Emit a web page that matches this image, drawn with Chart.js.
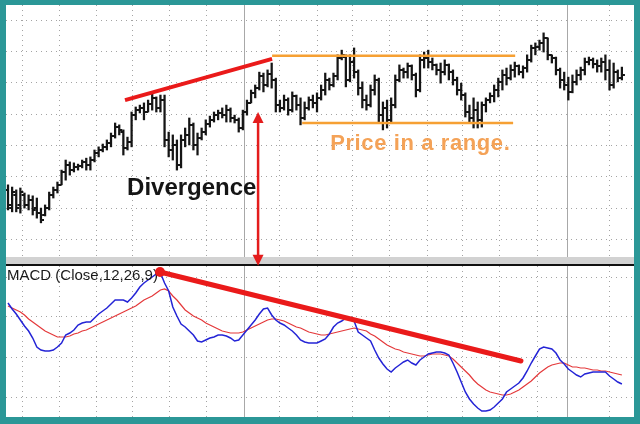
<!DOCTYPE html>
<html><head><meta charset="utf-8">
<script src="https://cdn.jsdelivr.net/npm/chart.js@4"></script>
<style>
html,body{margin:0;padding:0;background:#2b9797;}
#frame{position:relative;width:640px;height:424px;background:#2b9797;overflow:hidden}
#inner{position:absolute;left:6px;top:5px;width:628px;height:412px;background:#fff}
#sep{position:absolute;left:6px;top:257px;width:628px;height:7px;background:#d2d2d2}
#sepline{position:absolute;left:6px;top:264px;width:628px;height:2px;background:#111}
#c1{position:absolute;left:0;top:0;z-index:3}
#c2{position:absolute;left:0;top:266px;z-index:2}
</style></head>
<body>
<div id="frame">
<div id="inner"></div><div id="sep"></div><div id="sepline"></div>
<canvas id="c1" width="640" height="272"></canvas>
<canvas id="c2" width="640" height="151"></canvas>
</div>
<script>
// ---- Price bars (OHLC) ----
const opens=[52.59,52.01,52.43,52.11,52.43,52.11,52.27,52.01,51.85,51.79,
52.01,52.43,52.59,52.75,53.16,53.38,53.22,53.32,53.35,53.48,
53.38,53.54,53.76,53.86,53.96,54.08,54.31,54.59,54.43,53.92,
54.11,54.97,55.13,55.20,55.07,55.32,55.52,55.20,55.45,54.18,
53.86,54.02,53.38,54.18,54.34,54.66,54.02,54.24,54.43,54.69,
54.82,54.97,55.04,54.97,55.13,54.88,54.82,54.56,55.07,55.36,
55.68,55.83,56.22,55.93,56.28,56.09,55.29,55.20,55.45,55.13,
55.58,55.29,54.88,55.20,55.45,55.36,55.52,55.77,56.09,55.93,
56.22,56.79,56.82,56.09,56.66,56.34,55.83,55.45,55.29,55.77,
56.09,54.97,55.20,54.82,55.29,56.09,56.41,56.34,56.54,56.25,
55.77,56.73,56.79,56.66,56.57,56.41,56.34,56.57,56.34,56.09,
55.77,55.61,55.07,54.88,55.13,54.82,55.29,55.45,55.58,55.77,
56.03,56.25,56.15,56.41,56.54,56.34,56.47,56.73,57.11,57.14,
57.27,57.43,56.89,56.79,56.41,56.09,55.93,55.71,56.03,56.25,
56.41,56.66,56.73,56.60,56.54,56.66,56.41,55.93,56.34,56.15];
const highs=[52.75,52.68,52.59,52.65,52.49,52.43,52.40,52.33,52.01,52.11,
52.52,52.68,52.84,53.22,53.54,53.48,53.45,53.41,53.54,53.60,
53.64,53.86,53.96,54.05,54.18,54.40,54.72,54.66,54.50,54.27,
55.07,55.23,55.29,55.36,55.45,55.68,55.55,55.61,55.61,54.43,
54.34,54.18,54.34,54.56,54.88,54.72,54.40,54.56,54.82,54.94,
55.07,55.13,55.20,55.29,55.20,54.97,54.88,55.13,55.45,55.77,
55.93,56.34,56.31,56.41,56.63,56.15,55.45,55.61,55.52,55.71,
55.61,55.52,55.39,55.55,55.61,55.68,55.93,56.31,56.15,56.31,
56.89,57.04,56.89,56.89,57.11,56.41,56.03,55.61,55.93,56.25,
56.15,55.39,55.45,55.52,56.25,56.57,56.47,56.63,56.57,56.31,
56.89,56.98,57.04,56.79,56.60,56.63,56.73,56.60,56.41,56.18,
55.99,55.68,55.29,55.52,55.39,55.39,55.52,55.68,55.93,56.15,
56.41,56.47,56.57,56.66,56.57,56.54,56.89,57.20,57.27,57.36,
57.59,57.43,56.89,56.82,56.47,56.34,56.18,56.25,56.41,56.50,
56.79,56.82,56.79,56.73,56.79,56.89,56.73,56.63,56.41,56.50];
const lows=[51.95,51.89,51.89,51.85,52.01,51.95,51.79,51.69,51.54,51.76,
51.95,52.33,52.49,52.75,52.90,53.06,53.16,53.22,53.29,53.22,
53.22,53.48,53.64,53.80,53.86,53.96,54.24,54.34,53.70,53.86,
53.96,54.82,55.04,54.82,55.07,55.13,55.07,55.07,53.96,53.64,
53.54,53.22,53.29,53.96,54.02,53.86,53.70,54.18,54.34,54.59,
54.75,54.82,54.88,54.75,54.75,54.72,54.43,54.50,54.97,55.36,
55.52,55.77,55.71,55.87,55.83,55.07,55.07,55.13,54.97,55.07,
55.13,54.66,54.82,55.13,55.20,55.07,55.45,55.61,55.77,55.87,
56.09,56.73,55.87,56.03,56.15,55.61,55.20,55.13,55.23,55.61,
54.75,54.50,54.56,54.75,55.20,56.03,56.15,56.15,56.09,55.55,
55.71,56.47,56.47,56.41,56.25,55.99,56.25,56.09,55.93,55.61,
55.45,54.91,54.75,54.56,54.56,54.59,55.07,55.36,55.39,55.55,
55.77,55.93,56.09,56.18,56.25,56.15,56.34,56.66,56.89,57.04,
56.98,56.73,56.63,56.25,55.83,55.77,55.45,55.68,55.93,56.09,
56.25,56.57,56.47,56.34,56.34,56.09,55.77,55.83,56.03,56.09];
const closes=[52.11,52.52,52.01,52.52,52.11,52.27,51.95,51.85,51.63,52.01,
52.43,52.59,52.75,53.16,53.38,53.22,53.32,53.35,53.48,53.38,
53.54,53.76,53.86,53.96,54.08,54.31,54.59,54.50,53.92,54.11,
54.97,55.13,55.20,55.07,55.32,55.52,55.20,55.45,54.18,53.86,
54.02,53.38,54.18,54.34,54.66,54.02,54.24,54.43,54.69,54.82,
54.97,55.04,54.97,55.13,54.88,54.82,54.56,55.07,55.36,55.68,
55.83,56.22,55.93,56.28,56.09,55.29,55.20,55.45,55.13,55.58,
55.29,54.88,55.20,55.45,55.36,55.52,55.77,56.09,55.93,56.22,
56.79,56.89,56.09,56.66,56.34,55.83,55.45,55.29,55.77,56.09,
54.97,55.20,54.82,55.29,56.09,56.41,56.34,56.54,56.25,55.77,
56.73,56.79,56.66,56.57,56.41,56.34,56.57,56.34,56.09,55.77,
55.61,55.07,54.88,55.13,54.82,55.29,55.45,55.58,55.77,56.03,
56.25,56.15,56.41,56.54,56.34,56.47,56.73,57.11,57.14,57.27,
57.43,56.89,56.79,56.41,56.09,55.93,55.71,56.03,56.25,56.41,
56.66,56.73,56.60,56.54,56.66,56.41,55.93,56.34,56.15,56.25];
// ---- MACD (12,26,9) ----
const macd=[0.270,0.240,0.215,0.185,0.155,0.130,0.095,0.050,0.035,0.030,
0.030,0.035,0.050,0.070,0.110,0.120,0.135,0.160,0.170,0.175,
0.175,0.195,0.215,0.230,0.245,0.265,0.285,0.285,0.285,0.275,
0.295,0.320,0.350,0.370,0.385,0.400,0.415,0.420,0.370,0.330,
0.250,0.205,0.165,0.150,0.130,0.110,0.080,0.075,0.085,0.095,
0.100,0.110,0.110,0.105,0.095,0.080,0.085,0.110,0.135,0.160,
0.185,0.215,0.240,0.245,0.210,0.185,0.170,0.160,0.145,0.130,
0.110,0.085,0.075,0.070,0.070,0.070,0.080,0.090,0.115,0.150,
0.170,0.180,0.195,0.195,0.180,0.125,0.110,0.095,0.080,0.035,
-0.005,-0.035,-0.060,-0.075,-0.055,-0.040,-0.025,-0.015,-0.030,-0.040,
-0.015,0.000,0.015,0.020,0.025,0.025,0.020,0.010,-0.030,-0.075,
-0.125,-0.175,-0.210,-0.235,-0.255,-0.270,-0.270,-0.265,-0.250,-0.230,
-0.210,-0.175,-0.160,-0.145,-0.130,-0.105,-0.070,-0.030,0.005,0.040,
0.050,0.045,0.040,0.020,-0.015,-0.035,-0.060,-0.075,-0.090,-0.100,
-0.085,-0.080,-0.075,-0.075,-0.075,-0.075,-0.095,-0.110,-0.125,-0.135];
const signal=[0.255,0.245,0.235,0.225,0.210,0.190,0.175,0.160,0.145,0.130,
0.120,0.110,0.100,0.100,0.100,0.105,0.115,0.120,0.130,0.135,
0.145,0.155,0.165,0.175,0.185,0.195,0.205,0.215,0.225,0.235,
0.245,0.255,0.270,0.285,0.295,0.305,0.320,0.335,0.340,0.330,
0.305,0.285,0.260,0.235,0.220,0.205,0.195,0.185,0.170,0.160,
0.150,0.140,0.130,0.125,0.120,0.120,0.120,0.125,0.135,0.145,
0.155,0.165,0.175,0.185,0.190,0.190,0.185,0.180,0.170,0.160,
0.150,0.145,0.135,0.125,0.120,0.115,0.110,0.110,0.115,0.120,
0.125,0.130,0.135,0.140,0.145,0.140,0.135,0.130,0.115,0.105,
0.090,0.075,0.060,0.050,0.040,0.035,0.025,0.020,0.015,0.010,
0.005,0.005,0.010,0.015,0.015,0.015,0.010,0.005,-0.010,-0.030,
-0.050,-0.070,-0.090,-0.115,-0.135,-0.150,-0.165,-0.175,-0.180,-0.185,
-0.190,-0.190,-0.185,-0.175,-0.165,-0.150,-0.135,-0.120,-0.100,-0.080,
-0.065,-0.050,-0.040,-0.035,-0.030,-0.030,-0.040,-0.050,-0.050,-0.055,
-0.055,-0.060,-0.065,-0.065,-0.070,-0.070,-0.075,-0.080,-0.085,-0.090];
// ---- axis ticks (bar-index / value units) ----
const weekTicks=[3.6,12.6,21.6,30.3,39.3,48.3,66,75,83.7,92.7,101.7,110.4,119.4,128.4,146.1];
const monthTicks=[57.3,135.7];
const priceTicks=[51,52,53,54,55,56,57,58];
const macdTicks=[-0.2,0,0.2,0.4];

const XMIN=-0.485, XMAX=151.94;
const DOT='#a4a4a4';
const DASH=[1,4];

function mkImg(x0){const c=document.createElement('canvas');c.width=8;c.height=2;const g=c.getContext('2d');g.fillStyle='#151515';g.fillRect(x0,0,3,2);return c;}
const openImg=mkImg(1), closeImg=mkImg(4);

function xAxes(){
  return {
    x:{type:'linear',min:XMIN,max:XMAX,offset:false,
       afterBuildTicks:a=>{a.ticks=weekTicks.map(v=>({value:v}));},
       afterFit:s=>{s.height=0;},
       ticks:{display:false},border:{display:false,dash:DASH},
       grid:{color:DOT,lineWidth:1,drawTicks:false,offset:false}},
    xs:{type:'linear',min:XMIN,max:XMAX,offset:false,position:'bottom',
       afterBuildTicks:a=>{a.ticks=monthTicks.map(v=>({value:v}));},
       afterFit:s=>{s.height=0;},
       ticks:{display:false},border:{display:false},
       grid:{color:'#a8a8a8',lineWidth:1,drawTicks:false,offset:false}}
  };
}

function seg(ctx,x1,y1,x2,y2){ctx.beginPath();ctx.moveTo(x1,y1);ctx.lineTo(x2,y2);ctx.stroke();}

const annot1={id:'annot1',afterDatasetsDraw(chart){
  const {ctx,scales:{x,y}}=chart;
  const X=v=>x.getPixelForValue(v), Y=v=>y.getPixelForValue(v);
  ctx.save();
  // orange range lines
  ctx.strokeStyle='#f6a033';ctx.lineWidth=2.5;
  seg(ctx,X(64.1),Y(56.86),X(123.1),Y(56.86));
  seg(ctx,X(71.4),Y(54.72),X(122.6),Y(54.72));
  // red divergence line on price
  ctx.strokeStyle='#ea1a1a';ctx.lineWidth=4;
  seg(ctx,X(28.4),Y(55.45),X(64.1),Y(56.76));
  // red double arrow
  const ax=X(60.7), at=Y(55.07), ab=Y(50.17);
  ctx.strokeStyle='#e41c1c';ctx.fillStyle='#e41c1c';ctx.lineWidth=2.5;
  seg(ctx,ax,at+8,ax,ab-8);
  ctx.beginPath();ctx.moveTo(ax,at);ctx.lineTo(ax-5.5,at+11);ctx.lineTo(ax+5.5,at+11);ctx.closePath();ctx.fill();
  ctx.beginPath();ctx.moveTo(ax,ab);ctx.lineTo(ax-5.5,ab-11);ctx.lineTo(ax+5.5,ab-11);ctx.closePath();ctx.fill();
  // texts
  ctx.textAlign='left';ctx.textBaseline='alphabetic';
  ctx.fillStyle='#151515';ctx.font='bold 24px "Liberation Sans", Arial, sans-serif';
  ctx.fillText('Divergence',X(28.9),Y(52.43));
  ctx.fillStyle='#f4a257';ctx.font='bold 22px "Liberation Sans", Arial, sans-serif';
  try{ctx.letterSpacing='0.6px';}catch(e){}
  ctx.fillText('Price in a range.',X(78.2),Y(53.86));
  ctx.restore();
}};

const annot2={id:'annot2',afterDatasetsDraw(chart){
  const {ctx,scales:{x,y},chartArea}=chart;
  const X=v=>x.getPixelForValue(v), Y=v=>y.getPixelForValue(v);
  ctx.save();
  ctx.fillStyle='#1a1a1a';ctx.font='15px "Liberation Sans", Arial, sans-serif';
  ctx.textAlign='left';ctx.textBaseline='alphabetic';
  ctx.fillText('MACD (Close,12,26,9)',chartArea.left+1,chartArea.top+14);
  ctx.strokeStyle='#ea1a1a';ctx.fillStyle='#ea1a1a';ctx.lineWidth=5;ctx.lineCap='round';
  seg(ctx,X(36.9),Y(0.425),X(124.5),Y(-0.02));
  ctx.beginPath();ctx.arc(X(36.9),Y(0.425),5,0,Math.PI*2);ctx.fill();
  ctx.restore();
}};

const idx=opens.map((_,i)=>i);

new Chart(document.getElementById('c1'),{
  type:'bar',
  data:{datasets:[
    {type:'bar',data:idx.map(i=>({x:i,y:[lows[i],highs[i]]})),backgroundColor:'#151515',barThickness:1.6,grouped:false,borderWidth:0,order:2},
    {type:'scatter',data:idx.map(i=>({x:i,y:opens[i]})),pointStyle:openImg,pointRadius:2,pointHoverRadius:2,order:1},
    {type:'scatter',data:idx.map(i=>({x:i,y:closes[i]})),pointStyle:closeImg,pointRadius:2,pointHoverRadius:2,order:1}
  ]},
  options:{responsive:false,animation:false,events:[],
    layout:{padding:{left:6,right:6,top:5,bottom:15}},
    plugins:{legend:{display:false},tooltip:{enabled:false}},
    scales:Object.assign(xAxes(),{
      y:{type:'linear',min:50.452,max:58.478,
        afterBuildTicks:a=>{a.ticks=priceTicks.map(v=>({value:v}));},
        afterFit:s=>{s.width=0;},
        ticks:{display:false},border:{display:false,dash:DASH},
        grid:{color:DOT,lineWidth:1,drawTicks:false}}
    })
  },
  plugins:[annot1]
});

new Chart(document.getElementById('c2'),{
  type:'line',
  data:{datasets:[
    {data:idx.map(i=>({x:i,y:macd[i]})),borderColor:'#2424d6',borderWidth:1.5,pointRadius:0,tension:0,order:0},
    {data:idx.map(i=>({x:i,y:signal[i]})),borderColor:'#e4393b',borderWidth:1.2,pointRadius:0,tension:0,order:1}
  ]},
  options:{responsive:false,animation:false,events:[],
    layout:{padding:{left:6,right:6,top:0,bottom:0}},
    plugins:{legend:{display:false},tooltip:{enabled:false}},
    scales:Object.assign(xAxes(),{
      y:{type:'linear',min:-0.30,max:0.455,
        afterBuildTicks:a=>{a.ticks=macdTicks.map(v=>({value:v}));},
        afterFit:s=>{s.width=0;},
        ticks:{display:false},border:{display:false,dash:DASH},
        grid:{color:DOT,lineWidth:1,drawTicks:false}}
    })
  },
  plugins:[annot2]
});
</script>
</body></html>
